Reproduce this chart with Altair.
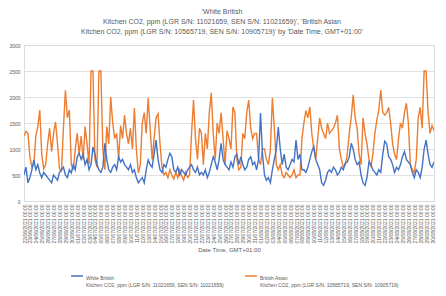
import altair as alt
import pandas as pd

# CO2 readings (ppm), one value every 8 hours
white_british = [
    500, 650, 350, 450, 600,
    790, 600, 700, 540, 450,
    550, 500, 450, 400, 350,
    500, 450, 400, 550, 600,
    650, 500, 450, 600, 540,
    700, 600, 850, 920, 800,
    900, 700, 800, 600, 700,
    1040, 900, 700, 600, 550,
    650, 1110, 800, 600, 550,
    650, 700, 600, 850, 750,
    800, 700, 650, 600, 700,
    550, 600, 450, 350, 400,
    450, 350, 600, 790, 700,
    650, 900, 1170, 800, 600,
    550, 700, 650, 800, 920,
    850, 600, 550, 650, 500,
    600, 550, 500, 600, 650,
    700, 600, 550, 650, 500,
    550, 500, 600, 450, 550,
    700, 850, 750, 600, 800,
    1110, 800, 700, 650, 600,
    750, 650, 850, 900, 700,
    850, 700, 600, 650, 800,
    850, 700, 750, 600, 800,
    1690, 900, 500, 400, 450,
    350, 600, 800, 1000, 1420,
    1000, 700, 900, 650, 600,
    700, 800, 750, 1170, 800,
    900, 600, 600, 550, 650,
    800, 950, 1050, 800, 700,
    600, 350, 300, 400, 550,
    600, 550, 650, 600, 500,
    550, 650, 600, 730, 750,
    850, 1110, 1000, 800, 700,
    750, 500, 350, 300, 450,
    750, 700, 600, 550, 500,
    600, 550, 900, 1150, 1100,
    850, 800, 700, 550, 650,
    600, 700, 850, 950, 800,
    750, 700, 550, 450, 600,
    550, 450, 650, 1000, 1170,
    900, 700, 650, 750,
]

british_asian = [
    1250, 1340, 1300, 850, 650,
    700, 1250, 1430, 1750, 900,
    620, 700, 1100, 1400, 950,
    1300, 1520, 1100, 620, 580,
    1400, 2130, 1600, 1750, 700,
    600, 1000, 1300, 900, 1250,
    800, 1430, 1100, 700, 2500,
    2500, 800, 650, 2500, 2500,
    1000, 600, 1430, 1100, 2000,
    1500, 1200, 1300, 800, 1450,
    1200, 1650, 1300, 1100, 1400,
    1000, 1790, 1000, 540, 700,
    1500, 1700, 1300, 1980, 1400,
    800, 1200, 1600, 1680, 1100,
    650, 500, 550, 450, 600,
    500, 420, 550, 450, 600,
    480, 400, 550, 450, 500,
    1300, 1940, 1200, 800, 1400,
    1300, 700, 1300, 1000, 1700,
    2080, 1300, 800, 1500, 1300,
    1700, 1200, 700, 1350, 1200,
    1000, 1810, 1700, 800, 600,
    650, 1300, 1200, 1700, 1940,
    1400, 1200, 1300, 1300, 800,
    700, 1000, 1000, 800, 700,
    1000, 1980, 1400, 700, 600,
    700, 500, 450, 550, 500,
    450, 500, 600, 450, 500,
    500, 1200, 1500, 1740, 1600,
    1810, 1300, 1000, 800, 1200,
    1600, 1400, 1300, 1200, 1500,
    1300, 1350, 1400, 1500, 1650,
    1000, 800, 650, 700, 900,
    1300, 1600, 2040, 1600, 1400,
    900, 700, 1600, 1300, 1100,
    800, 650, 900, 1300, 1550,
    1750, 2135, 1700, 1650, 1700,
    1800, 1500, 1100, 900, 800,
    1200, 1500, 1400, 1700, 1880,
    1500, 700, 600, 550, 800,
    1600, 1800, 1400, 2500, 2500,
    1700, 1300, 1450, 1350,
]

series_names = [
    "White British|Kitchen CO2, ppm (LGR S/N: 11021659, SEN S/N: 11021659)",
    "British Asian|Kitchen CO2, ppm (LGR S/N: 10565719, SEN S/N: 10905719)",
]
series_colors = ["#4472C4", "#ED7D31"]
y_ticks = [0, 500, 1000, 1500, 2000, 2500, 3000]

title_lines = [
    "'White British",
    "Kitchen CO2, ppm (LGR S/N: 11021659, SEN S/N: 11021659)', 'British Asian",
    "Kitchen CO2, ppm (LGR S/N: 10565719, SEN S/N: 10905719)' by 'Date Time, GMT+01:00'",
]

n = len(white_british)
times = pd.date_range("2021-06-22 00:00", periods=n, freq="8h")
df = pd.DataFrame({
    "t": list(times) + list(times),
    "v": white_british + british_asian,
    "s": [series_names[0]] * n + [series_names[1]] * n,
})

FONT = "Liberation Sans"
GREY = "#595959"

color = alt.Color(
    "s:N",
    scale=alt.Scale(domain=series_names, range=series_colors),
    legend=alt.Legend(
        orient="none", legendX=46, legendY=224, direction="horizontal",
        columns=2, title=None, symbolType="stroke", symbolStrokeWidth=1.5,
        symbolSize=140, labelFontSize=5, labelColor=GREY, labelFont=FONT,
        labelLimit=400, labelExpr="split(datum.label, '|')",
        columnPadding=18, labelOffset=2, labelBaseline="top",
    ),
)

x = alt.X(
    "t:T",
    title="Date Time, GMT+01:00",
    scale=alt.Scale(domain=[times[0].isoformat(), times[-1].isoformat()], nice=False),
    axis=alt.Axis(
        tickCount={"interval": "day", "step": 1}, format="%d/%m/%Y %H:%M",
        labelAngle=270, labelFontSize=5, labelColor=GREY, labelFont=FONT,
        labelOverlap=False, ticks=False, grid=False, domainColor="#D9D9D9",
        titleFontSize=6, titleColor=GREY, titleFont=FONT, titleFontWeight="normal",
        titlePadding=4, labelPadding=3,
    ),
)
y = alt.Y(
    "v:Q",
    title=None,
    scale=alt.Scale(domain=[0, 3000], nice=False),
    axis=alt.Axis(
        values=y_ticks, format="d", labelFontSize=5, labelColor=GREY, labelFont=FONT,
        domain=False, ticks=False, gridColor="#D9D9D9", gridWidth=0.8,
        labelPadding=4,
    ),
)

base = alt.Chart(df)
orange = base.transform_filter(alt.datum.s == series_names[1]).mark_line(
    strokeWidth=1.4, clip=True
).encode(x=x, y=y, color=color)
blue = base.transform_filter(alt.datum.s == series_names[0]).mark_line(
    strokeWidth=1.4, clip=True
).encode(x=x, y=y, color=color)

chart = alt.layer(orange, blue).properties(
    width=410, height=156,
    autosize=alt.AutoSizeParams(type="none"),
    padding={"left": 16, "top": 37, "right": 4, "bottom": 87},
    title=alt.TitleParams(
        text=title_lines, fontSize=7, color=GREY, font=FONT, fontWeight="normal",
        lineHeight=10, anchor="middle", offset=8, dx=-7,
    ),
).configure_view(stroke=None).configure(background="white")

chart.save("out.html", embed_options={"renderer": "svg", "actions": False})
